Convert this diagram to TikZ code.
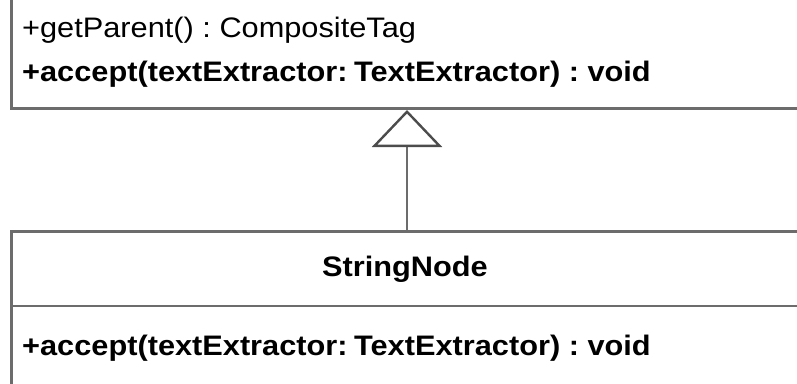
\documentclass[tikz,border=0pt]{standalone}
\usepackage{fontspec}
\setmainfont[FakeStretch=1.09]{Liberation Sans}
\usetikzlibrary{arrows.meta}
\frenchspacing

\begin{document}
\begin{tikzpicture}[x=1pt,y=-1pt,
  umlline/.style={draw=gray!85!black,line width=2.6pt},
  umltext/.style={font=\fontsize{28.2}{34}\selectfont,anchor=base west,inner sep=0pt},
  umlbold/.style={umltext,font=\fontsize{28.2}{34}\selectfont\bfseries}]

% ---- canvas: the picture only shows a cut-out of the two classes ----
\useasboundingbox (0,0) rectangle (797,383);
\clip (0,0) rectangle (797,383);

% ---- the parent class (only its lower part is visible) ----
\node[umlline,rectangle,minimum width=840pt,minimum height=160pt,anchor=south west,inner sep=0pt]
  (compositeTag) at (10,110) {};
\node[umltext] (getParent) at (22,37) {+getParent() : CompositeTag};
\node[umlbold] (acceptTop) at (22,81)
  {+accept(textExtractor:\hspace{-2pt} TextExtractor) : void};

% ---- the subclass StringNode ----
\node[umlline,rectangle,minimum width=840pt,minimum height=200pt,anchor=north west,inner sep=0pt]
  (stringNode) at (10,230) {};
\node[umlbold,anchor=base] (stringName) at (405,276) {StringNode};
\coordinate (divLeft) at (10,306);
\draw[umlline] (divLeft) -- ++(840,0);
\node[umlbold] (acceptSub) at (22,355)
  {+accept(textExtractor:\hspace{-2pt} TextExtractor) : void};

% ---- generalisation: StringNode --|> parent ----
\coordinate (stemFoot) at (407,230);
\coordinate (stemHead) at (407,110);
\draw[umlline,-{Triangle[open,length=37pt,width=70pt,line width=2.4pt,color=black!70]}]
  (stemFoot) -- (stemHead);

\end{tikzpicture}
\end{document}
